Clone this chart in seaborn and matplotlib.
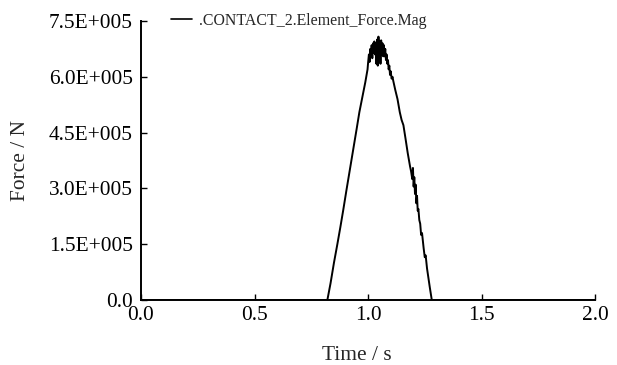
import numpy as np
import pandas as pd
import seaborn as sns
import matplotlib.pyplot as plt

# contact force magnitude (time in s, force in N)
time_s = [0.0, 0.821, 0.835, 0.85, 0.865, 0.878, 0.891, 0.905, 0.92, 0.935,
          0.95, 0.962, 0.975, 0.988, 0.998,
          1.000, 1.004, 1.007, 1.010, 1.013, 1.016, 1.019, 1.022, 1.025, 1.028,
          1.031, 1.034, 1.037, 1.040, 1.043, 1.046, 1.049, 1.052, 1.055, 1.058,
          1.061, 1.064, 1.067, 1.070, 1.073, 1.076, 1.079, 1.082, 1.085, 1.088,
          1.091, 1.094, 1.097, 1.100, 1.104, 1.108, 1.111,
          1.120, 1.130, 1.140, 1.148, 1.156, 1.165, 1.175, 1.185, 1.190, 1.195,
          1.198, 1.201, 1.204, 1.207, 1.210, 1.213, 1.216, 1.219, 1.222, 1.226,
          1.230, 1.234, 1.238, 1.245, 1.250, 1.254, 1.260, 1.266, 1.272, 1.281,
          2.0]
force_N = [0, 0, 0.45e5, 1.0e5, 1.5e5, 1.95e5, 2.42e5, 2.95e5, 3.5e5, 4.05e5,
           4.6e5, 5.05e5, 5.45e5, 5.85e5, 6.2e5,
           6.35e5, 6.60e5, 6.40e5, 6.75e5, 6.55e5, 6.85e5, 6.50e5, 6.90e5, 6.65e5, 6.95e5,
           6.60e5, 6.90e5, 6.35e5, 7.00e5, 6.30e5, 7.08e5, 6.70e5, 6.95e5, 6.35e5, 6.98e5,
           6.60e5, 6.90e5, 6.55e5, 6.85e5, 6.55e5, 6.75e5, 6.45e5, 6.60e5, 6.35e5, 6.45e5,
           6.20e5, 6.30e5, 6.05e5, 6.15e5, 5.95e5, 6.00e5, 5.90e5,
           5.65e5, 5.40e5, 5.05e5, 4.84e5, 4.70e5, 4.35e5, 3.95e5, 3.60e5, 3.45e5, 3.25e5,
           3.55e5, 3.05e5, 3.30e5, 2.85e5, 3.10e5, 2.60e5, 2.80e5, 2.40e5, 2.45e5, 2.15e5,
           2.05e5, 1.75e5, 1.80e5, 1.40e5, 1.15e5, 1.20e5, 0.85e5, 0.60e5, 0.35e5, 0.0,
           0.0]

x_ticks = [0.0, 0.5, 1.0, 1.5, 2.0]
y_ticks = [0.0, 1.5e5, 3.0e5, 4.5e5, 6.0e5, 7.5e5]
y_tick_labels = ['0.0', '1.5E+005', '3.0E+005', '4.5E+005', '6.0E+005', '7.5E+005']
series_name = '.CONTACT_2.Element_Force.Mag'

df = pd.DataFrame({'Time': time_s, 'Force': force_N})

sns.set_style('ticks')
plt.rcParams['font.family'] = ['Liberation Serif', 'DejaVu Serif']

fig = plt.figure(figsize=(6.17, 3.65), dpi=100)
ax = fig.add_axes([141 / 617, 65 / 365, 454 / 617, 279 / 365])

sns.lineplot(data=df, x='Time', y='Force', color='black', lw=1.4,
             estimator=None, sort=False, label=series_name, ax=ax)

ax.set_xlim(0, 2.0)
ax.set_ylim(0, 7.5e5)
ax.set_xticks(x_ticks)
ax.set_xticklabels(['%.1f' % v for v in x_ticks])
ax.set_yticks(y_ticks)
ax.set_yticklabels(y_tick_labels)
ax.tick_params(axis='both', direction='in', labelsize=15.4, width=1.0, colors='black')
ax.tick_params(axis='y', length=4, pad=6)
ax.tick_params(axis='x', length=4.5, pad=4)

for side in ['top', 'right']:
    ax.spines[side].set_visible(False)
for side in ['left', 'bottom']:
    ax.spines[side].set_linewidth(1.4)
    ax.spines[side].set_color('black')

ax.set_xlabel('Time / s', fontsize=15.4)
ax.set_ylabel('Force / N', fontsize=15.4)
ax.xaxis.set_label_coords(0.476, -0.166)
ax.yaxis.set_label_coords(-0.245, 0.5)

leg = ax.legend(loc='center left', bbox_to_anchor=(171 / 617, 344 / 365),
                bbox_transform=fig.transFigure, frameon=False, fontsize=11.4,
                handlelength=1.35, handletextpad=0.45, borderpad=0,
                borderaxespad=0)
for line in leg.get_lines():
    line.set_linewidth(1.2)

fig.savefig('out.png', dpi=100)
